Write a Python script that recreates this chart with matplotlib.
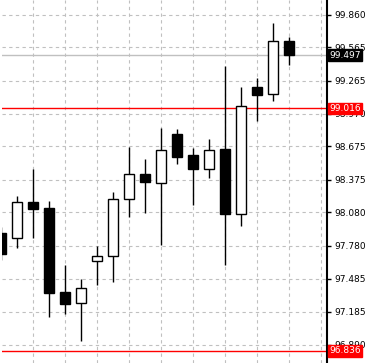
import matplotlib
matplotlib.use("Agg")
import matplotlib.pyplot as plt
from matplotlib.patches import Rectangle

opens  = [97.892, 97.847, 98.171, 98.117, 97.361, 97.262, 97.640, 97.685, 98.198, 98.423,
          98.348, 98.786, 98.597, 98.474, 98.651, 98.069, 99.209, 99.144, 99.623]
highs  = [97.950, 98.228, 98.471, 98.183, 97.607, 97.481, 97.775, 98.261, 98.666, 98.561,
          98.843, 98.831, 98.663, 98.741, 99.398, 99.209, 99.290, 99.785, 99.659]
lows   = [97.650, 97.763, 97.853, 97.142, 97.163, 96.926, 97.430, 97.451, 98.042, 98.075,
          97.787, 98.516, 98.147, 98.393, 97.607, 97.961, 98.906, 99.086, 99.410]
closes = [97.709, 98.171, 98.114, 97.358, 97.259, 97.397, 97.685, 98.198, 98.423, 98.351,
          98.639, 98.582, 98.474, 98.639, 98.069, 99.036, 99.140, 99.621, 99.497]

tick_values = [99.860, 99.565, 99.265, 98.970, 98.675, 98.375, 98.080, 97.780, 97.485, 97.185, 96.890]
tick_labels = ["99.860", "99.565", "99.265", "98.970", "98.675", "98.375", "98.080",
               "97.780", "97.485", "97.185", "96.890"]
bid_price = 99.497
red_levels = [99.016, 96.836]

W, H = 369, 363
fig = plt.figure(figsize=(W / 100, H / 100), dpi=100)
ax = fig.add_axes([2 / W, 0, 325 / W, 1])
ax.set_facecolor("white")
ax.set_xlim(0.081, 20.39)
ax.set_ylim(96.725, 99.992)

# grid
for v in tick_values:
    ax.axhline(v, color="#c0c0c0", lw=0.8, ls=(0, (3, 3)), zorder=0)
for k in range(2, 21, 2):
    ax.axvline(k, color="#c0c0c0", lw=0.8, ls=(0, (3, 3)), zorder=0)

# level lines
ax.axhline(bid_price, color="#c0c0c0", lw=1.0, zorder=1)
for lv in red_levels:
    ax.axhline(lv, color="#ff0000", lw=1.0, zorder=1)

bw = 0.6
for i, (o, h, l, c) in enumerate(zip(opens, highs, lows, closes)):
    ax.vlines(i, l, h, color="black", lw=1.0, zorder=2)
    bottom = min(o, c)
    height = abs(c - o)
    face = "black" if c < o else "white"
    ax.add_patch(Rectangle((i - bw / 2, bottom), bw, height, facecolor=face,
                           edgecolor="black", lw=1.0, zorder=3))

for s in ["top", "left", "bottom"]:
    ax.spines[s].set_visible(False)
ax.spines["right"].set_color("black")
ax.spines["right"].set_linewidth(1.5)
ax.yaxis.tick_right()
ax.set_yticks(tick_values)
ax.set_yticklabels(tick_labels)
ax.tick_params(axis="y", direction="out", length=3, width=1, pad=2,
               labelsize=6.5, colors="black")
ax.set_xticks([])

ytr = ax.get_yaxis_transform()
ax.text(1.006, bid_price, "99.497", transform=ytr, ha="left", va="center",
        fontsize=6.5, color="white", zorder=5, clip_on=False,
        bbox=dict(boxstyle="square,pad=0.15", facecolor="black", edgecolor="black"))
for lv in red_levels:
    ax.text(1.006, lv, f"{lv:.3f}", transform=ytr, ha="left", va="center",
            fontsize=6.5, color="white", zorder=5, clip_on=False,
            bbox=dict(boxstyle="square,pad=0.15", facecolor="#ff0000", edgecolor="#ff0000"))

fig.savefig("out.png", dpi=100)
